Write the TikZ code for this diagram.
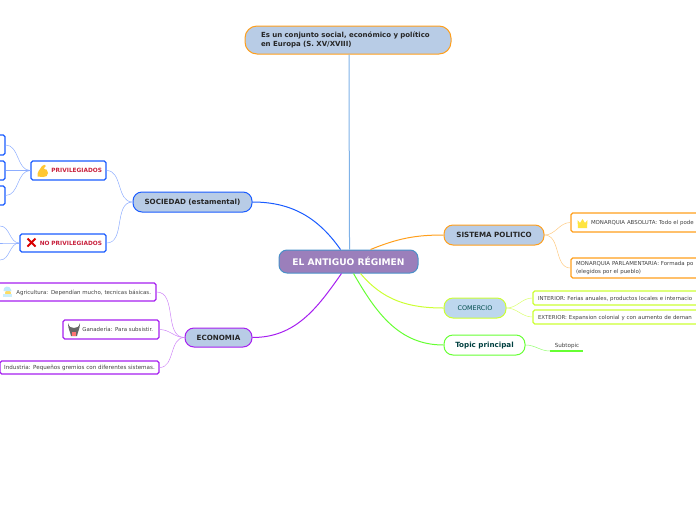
\documentclass[tikz,border=0pt]{standalone}
\usepackage{fontspec}
\setmainfont{DejaVu Sans}
\usepackage{xcolor}
\usetikzlibrary{positioning}
\definecolor{fondo}{HTML}{B8CCE6}
\definecolor{fondoraiz}{HTML}{9B7FBB}
\definecolor{borderaiz}{HTML}{4A90C8}
\definecolor{fondocom}{HTML}{BDD7EE}
\definecolor{celeste}{HTML}{7FB2E8}
\definecolor{azul}{HTML}{1A5CFF}
\definecolor{morado}{HTML}{A61FF0}
\definecolor{naranja}{HTML}{FF9F1C}
\definecolor{lima}{HTML}{CCFF33}
\definecolor{verde}{HTML}{66FF33}
\definecolor{rojotxt}{HTML}{C8203C}
\begin{document}
\begin{tikzpicture}[
        x=1pt, y=-1pt,
        main/.style={rectangle, rounded corners=9pt, fill=fondo, line width=1pt, inner sep=0pt, align=center, text depth=0pt, font=\fontsize{7.15}{8}\selectfont\bfseries, text=black!85},
        sub/.style={rectangle, rounded corners=1.8pt, fill=white, line width=1.2pt, inner sep=0pt, align=left, text depth=0pt, font=\fontsize{5.45}{7.4}\selectfont, text=black!75},
        link/.style={line width=1pt},
        twig/.style={line width=0.5pt}
    ]
    \useasboundingbox (0,0) rectangle (696,520);

    % CENTRO
    \node[main, draw=borderaiz, fill=fondoraiz, rounded corners=8pt, minimum width=139pt, minimum height=23pt, text=white, font=\fontsize{9.1}{10}\selectfont\bfseries] (root) at (348.5,261.5) {EL ANTIGUO RÉGIMEN};
    \node[main, draw=naranja, rounded corners=12pt, minimum width=206pt, minimum height=28pt, text width=174pt, align=left, text depth=, font=\fontsize{7}{9}\selectfont\bfseries] (defi) at (348,40) {Es un conjunto social, económico y político\\en Europa (S. XV/XVIII)};

    % SOCIEDAD
    \node[main, draw=azul, minimum width=119pt, minimum height=20pt] (soc) at (192.5,202) {SOCIEDAD (estamental)};
    \node[sub, draw=azul, minimum width=75pt, minimum height=19pt, text=rojotxt, font=\fontsize{5.8}{7}\selectfont\bfseries, text width=67pt, align=right] (priv) at (68.5,170.5) {PRIVILEGIADOS};
    \node[sub, draw=azul, minimum width=86pt, minimum height=18pt, text=rojotxt, font=\fontsize{5.8}{7}\selectfont\bfseries, text width=78pt, align=right] (nopriv) at (63,243) {NO PRIVILEGIADOS};
    \node[sub, draw=azul, minimum width=40pt, minimum height=20pt] (priv1) at (-15,145) {};
    \node[sub, draw=azul, minimum width=40pt, minimum height=19pt] (priv2) at (-15,170.5) {};
    \node[sub, draw=azul, minimum width=40pt, minimum height=19pt] (priv3) at (-15,195.5) {};
    \coordinate (nop1) at (0,226);
    \coordinate (nop2) at (0,243);
    \coordinate (nop3) at (0,260);
    % brazo y cruz
    \fill[orange!55!yellow!80!white] (37.5,176.5) .. controls (37,171) and (40,170) .. (42,166) .. controls (43,164.5) and (46,164.5) .. (46,166) .. controls (45,167) and (44,167) .. (44,169) .. controls (46,168.5) and (48,170) .. (48,173) .. controls (48,176) and (46,177) .. (43,177) -- cycle;
    \draw[red!85!black, line width=2pt] (27.5,238.5) -- (35.5,246.5) (35.5,238.5) -- (27.5,246.5);

    % ECONOMIA
    \node[main, draw=morado, minimum width=67pt, minimum height=19pt] (eco) at (218.5,337.5) {ECONOMIA};
    \node[sub, draw=morado, minimum width=176pt, minimum height=18pt, text width=166pt, align=right] (agri) at (68,292) {Agricultura: Dependían mucho, tecnicas básicas.};
    \node[sub, draw=morado, minimum width=96pt, minimum height=19pt, text width=84pt, align=right] (gana) at (111,329.5) {Ganadería: Para subsistir.};
    \node[sub, draw=morado, minimum width=159pt, minimum height=13pt, font=\fontsize{5.6}{7.4}\selectfont] (indu) at (79.5,367.5) {Industria: Pequeños gremios con diferentes sistemas.};
    % nube y toro
    \fill[yellow!60!orange!60!white] (8,293) circle (3pt);
    \fill[cyan!25!white] (3.5,290.5) .. controls (3,286) and (10,285) .. (11,289.5) -- (11.5,291) -- (3.5,291) -- cycle;
    \fill[cyan!20!white] (3,294) rectangle (12,296.5);
    \fill[black!60] (68,323) .. controls (69,327) and (71,328) .. (74,328) .. controls (77,328) and (79,327) .. (80,323) .. controls (80,329) and (78,331) .. (77,336) -- (71,336) .. controls (70,331) and (68,329) .. (68,323) -- cycle;
    \fill[red!55!white] (72,332) rectangle (76,336);

    % SISTEMA POLITICO
    \node[main, draw=naranja, minimum width=100pt, minimum height=20pt] (sist) at (494,235) {SISTEMA POLITICO};
    \node[sub, draw=naranja, minimum width=200pt, minimum height=19pt, text width=190pt] (abso) at (671,222.5) {\hspace*{15pt}MONARQUIA ABSOLUTA: Todo el pode};
    \node[sub, draw=naranja, minimum width=200pt, minimum height=20pt, text width=190pt, text depth=] (parl) at (671,268) {MONARQUIA PARLAMENTARIA: Formada po\\(elegidos por el pueblo)};
    % corona
    \fill[yellow!80!orange!75!white] (577.5,220) -- (580,223) -- (582.5,219) -- (585,223) -- (587.5,220) -- (587,228) -- (578,228) -- cycle;

    % COMERCIO
    \node[main, draw=lima, fill=fondocom, minimum width=62pt, minimum height=20pt, font=\fontsize{6.4}{8}\selectfont, text=teal!60!black] (come) at (475,308) {COMERCIO};
    \node[sub, draw=lima, minimum width=200pt, minimum height=14pt, text width=190pt] (inte) at (633,298) {INTERIOR: Ferias anuales, productos locales e internacio};
    \node[sub, draw=lima, minimum width=200pt, minimum height=14pt, text width=190pt] (exte) at (633,317) {EXTERIOR: Expansion colonial y con aumento de deman};

    % TOPIC
    \node[main, draw=verde, fill=white, minimum width=81pt, minimum height=20pt, text=teal!50!black] (topi) at (484.5,345) {Topic principal};
    \node[inner sep=0pt, font=\fontsize{5.6}{7}\selectfont, text=black!75] (subt) at (567,345.5) {Subtopic};
    \coordinate (subtIni) at (550,351);
    \coordinate (subtFin) at (583,351);
    \draw[line width=1.2pt, verde] (subtIni) -- (subtFin);

    % Ramas del centro
    \draw[link, celeste] ([xshift=1pt]root.north) to[out=90, in=-90] ([xshift=1pt]defi.south);
    \draw[link, azul] ([xshift=-8pt]root.north) to[out=125, in=0] (soc.east);
    \draw[link, morado] ([xshift=-7pt]root.south) to[out=-125, in=0] (eco.east);
    \draw[link, naranja] ([xshift=22pt]root.north) to[out=22, in=180] (sist.west);
    \draw[link, lima] ([xshift=12pt]root.south) to[out=-50, in=180] (come.west);
    \draw[link, verde] ([xshift=5pt]root.south) to[out=-60, in=180] (topi.west);

    % Ramas secundarias
    \foreach \ini/\fin in {soc/priv, soc/nopriv}
        \draw[twig, azul!50!white] (\ini.west) to[out=180, in=0] (\fin.east);
    \foreach \fin in {priv1, priv2, priv3}
        \draw[twig, azul!50!white] (priv.west) to[out=180, in=0] (\fin.east);
    \foreach \fin in {nop1, nop2, nop3}
        \draw[twig, azul!50!white] (nopriv.west) to[out=180, in=0] (\fin);
    \foreach \fin in {agri, gana, indu}
        \draw[twig, morado!55!white] (eco.west) to[out=180, in=0] (\fin.east);
    \foreach \fin in {abso, parl}
        \draw[twig, naranja!55!white] (sist.east) to[out=0, in=180] (\fin.west);
    \foreach \fin in {inte, exte}
        \draw[twig, lima!70!white] (come.east) to[out=0, in=180] (\fin.west);
    \draw[twig, verde!70!white] (topi.east) to[out=0, in=180] (subtIni);
\end{tikzpicture}
\end{document}
